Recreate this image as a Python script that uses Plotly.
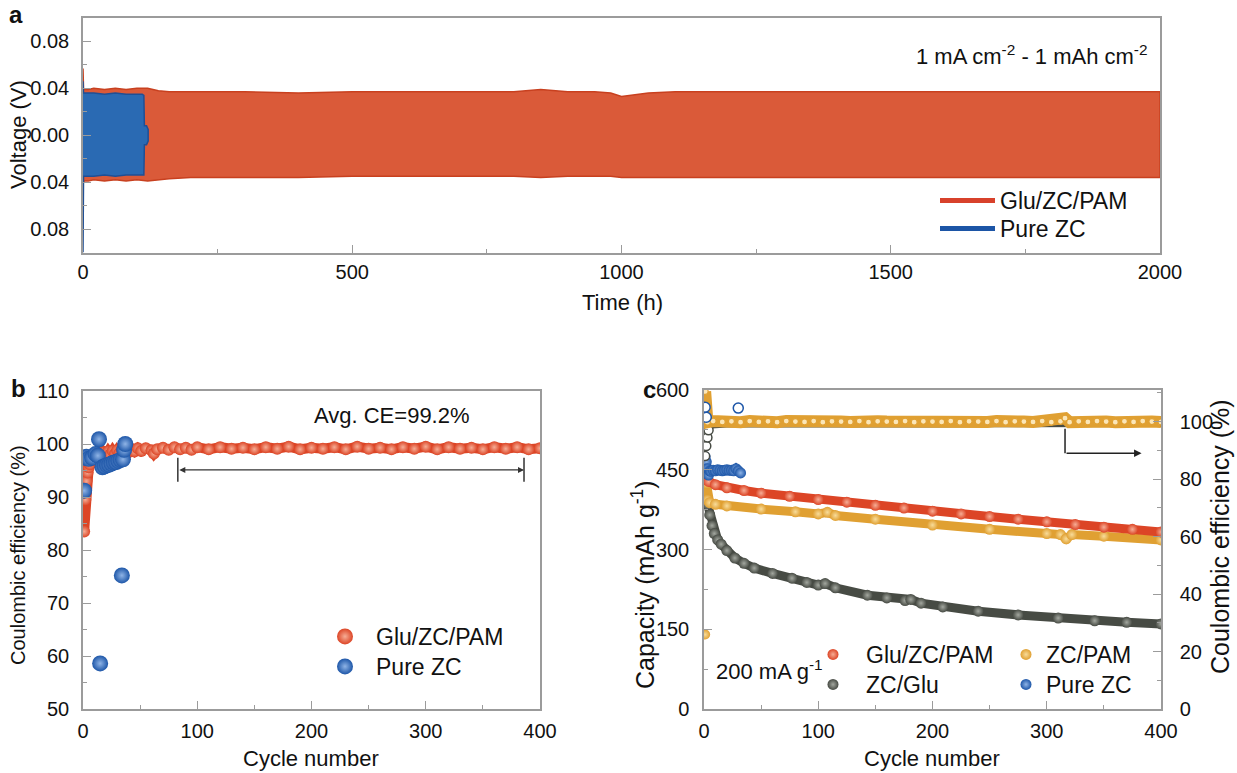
import plotly.graph_objects as go

W, H = 1237, 773

# ---------------- Panel a : voltage profile envelopes (Time in h, Voltage in V) ----------------
a_glu_time = [0, 1, 3, 10, 20, 40, 60, 80, 100, 120, 140, 160, 200, 300, 400, 500, 600, 700, 800, 850,
              900, 950, 980, 1000, 1020, 1050, 1100, 1200, 1300, 1400, 1500, 1600, 1700, 1800, 1900, 2000]
a_glu_upper = [0.057, 0.040, 0.039, 0.039, 0.040, 0.039, 0.040, 0.039, 0.040, 0.040, 0.038, 0.037, 0.037,
               0.037, 0.036, 0.037, 0.037, 0.037, 0.037, 0.039, 0.037, 0.037, 0.036, 0.033, 0.034, 0.036,
               0.037, 0.037, 0.037, 0.037, 0.037, 0.037, 0.037, 0.037, 0.037, 0.037]
a_glu_lower = [-0.040, -0.040, -0.039, -0.039, -0.038, -0.039, -0.038, -0.039, -0.038, -0.039, -0.038,
               -0.037, -0.036, -0.036, -0.036, -0.035, -0.035, -0.035, -0.035, -0.036, -0.035, -0.035,
               -0.035, -0.036, -0.036, -0.036, -0.036, -0.036, -0.036, -0.036, -0.036, -0.036, -0.036,
               -0.036, -0.036, -0.036]

a_zc_time = [0, 1, 5, 20, 40, 60, 80, 100, 110, 113, 114, 118, 121]
a_zc_upper = [0.046, 0.036, 0.036, 0.036, 0.035, 0.036, 0.035, 0.035, 0.035, 0.034, 0.008, 0.008, 0.005]
a_zc_lower = [-0.100, -0.035, -0.035, -0.035, -0.034, -0.035, -0.034, -0.034, -0.034, -0.034, -0.008,
              -0.008, -0.005]

a_ytick_vals = [-0.08, -0.04, 0.0, 0.04, 0.08]
a_ytick_text = ["0.08", "0.04", "0.00", "0.04", "0.08"]

# ---------------- Panel b : Coulombic efficiency ----------------
b_glu_cycle = [1, 2, 3, 4, 5, 6, 7, 8, 9, 10, 12, 14, 16, 18, 20, 22, 24, 26, 28, 30,
               32, 34, 36, 38, 40, 42, 45, 48, 51, 55, 60, 62, 65, 70, 75, 80, 85, 90, 95, 100,
               110, 120, 130, 140, 150, 160, 170, 180, 190, 200, 210, 220, 230, 240, 250, 260, 270, 280, 290, 300,
               310, 320, 330, 340, 350, 360, 370, 380, 390, 400]
b_glu_ce = [83.5, 89.5, 93.0, 94.6, 95.6, 96.2, 96.9, 97.3, 97.0, 97.8, 97.4, 98.2, 97.6, 98.4, 97.9, 98.6, 98.0, 98.7, 98.1, 98.8,
            98.3, 98.9, 98.4, 99.0, 98.5, 99.1, 98.6, 99.2, 98.7, 99.2, 98.8, 98.2, 99.0, 99.3, 98.9, 99.4, 99.0, 99.3, 98.9, 99.4,
            99.0, 99.4, 99.1, 99.3, 99.0, 99.4, 99.1, 99.5, 99.0, 99.3, 99.1, 99.4, 99.0, 99.5, 99.1, 99.3, 99.0, 99.4, 99.1, 99.5,
            99.0, 99.4, 99.1, 99.3, 99.0, 99.4, 99.1, 99.4, 99.0, 99.2]

b_zc_cycle = [1, 2, 3, 5, 8, 11, 13, 14, 15, 17, 19, 21, 23, 25, 27, 29, 31, 33, 34, 35, 36, 37]
b_zc_ce = [91.2, 97.4, 97.6, 97.2, 97.4, 98.1, 97.8, 100.9, 58.6, 95.6, 95.8, 96.0, 96.1, 96.3, 96.5, 96.6,
           96.8, 97.0, 75.2, 97.1, 98.9, 100.0]

b_avg_range = [83, 386]      # cycle range of the averaged CE bracket
b_avg_level = 95.1

# ---------------- Panel c : capacity (left) and CE (right) ----------------
c_glu_cycle = [2, 4, 10, 20, 35, 50, 75, 100, 125, 150, 175, 200, 225, 250, 275, 300, 325, 350, 375, 400]
c_glu_cap = [432, 428, 422, 416, 411, 406, 400, 394, 389, 383, 378, 372, 367, 362, 357, 352, 347, 342, 338, 333]

c_pam_first_cycle = [1]
c_pam_first_cap = [140]
c_pam_cycle = [2, 3, 5, 10, 20, 50, 80, 100, 108, 115, 150, 200, 250, 300, 312, 317, 322, 350, 400]
c_pam_cap = [425, 393, 388, 385, 382, 376, 371, 367, 370, 364, 357, 346, 338, 330, 328, 320, 328, 325, 318]

c_zcglu_cycle = [1, 3, 5, 7, 9, 12, 15, 20, 27, 35, 44, 60, 77, 90, 100, 106, 115, 143, 160, 176, 181, 190,
                 209, 240, 275, 310, 342, 370, 400]
c_zcglu_cap = [400, 385, 365, 345, 330, 318, 310, 298, 284, 274, 265, 255, 246, 238, 233, 236, 228, 214, 209,
               204, 206, 199, 192, 184, 177, 171, 166, 163, 160]

c_zc_cycle = [1, 2, 3, 4, 5, 6, 8, 10, 12, 14, 16, 18, 20, 22, 24, 26, 28, 30, 32]
c_zc_cap = [474, 465, 452, 440, 448, 447, 449, 448, 450, 449, 448, 449, 450, 449, 449, 448, 452, 448, 444]

c_pam_ce_cycle = [1, 3, 8, 16, 24, 32, 40, 48, 56, 64, 72, 80, 88, 96, 104, 112, 120, 128, 136, 144, 152, 160,
                  168, 176, 184, 192, 200, 208, 216, 224, 232, 240, 248, 256, 264, 272, 280, 288, 296, 304, 312,
                  316, 320, 328, 336, 344, 352, 360, 368, 376, 384, 392, 400]
c_pam_ce = [110.5, 99.8, 100.2, 99.9, 100.1, 99.8, 100.2, 99.9, 100.1, 99.8, 100.2, 100.0, 99.9, 100.2, 99.8,
            100.1, 100.0, 99.9, 100.2, 99.8, 100.1, 100.0, 99.9, 100.2, 99.8, 100.1, 100.0, 99.9, 100.2, 99.8,
            100.1, 100.0, 99.9, 100.2, 99.8, 100.1, 100.0, 99.9, 100.2, 99.8, 100.1, 101.2, 99.8, 100.1, 99.9,
            100.2, 100.0, 99.8, 100.1, 99.9, 100.2, 100.0, 99.9]

c_zcglu_ce_early_cycle = [1, 2, 3, 4]
c_zcglu_ce_early = [88.0, 91.5, 94.5, 97.0]
c_zcglu_ce_cycle = [4, 6, 10, 20, 50, 100, 150, 200, 250, 300, 350, 400]
c_zcglu_ce = [97.0, 98.3, 98.6, 98.8, 98.8, 98.7, 98.8, 98.8, 98.9, 98.9, 99.0, 99.0]

c_zc_ce_cycle = [1, 2, 30]
c_zc_ce = [105.0, 101.5, 104.7]

c_arrow_cycle = [316, 383]
c_arrow_ce = [97.5, 89.0]

# ---------------- colours ----------------
RED_A, RED_A_EDGE = "#da5a39", "#c8401f"
BLUE_A, BLUE_A_EDGE = "#2a6ab3", "#1f4f95"
RED, RED_HI = "#dc4526", "#f6ad95"
BLUE, BLUE_HI = "#1d56a8", "#8fb4e6"
ORANGE, ORANGE_HI = "#e0a032", "#f8dc9a"
DARK, DARK_HI = "#474b44", "#a3a79f"
AXC = "#9b9b9b"
FONT = "Arial, Liberation Sans, Helvetica, sans-serif"

fig = go.Figure()

# ---- panel a ----
fig.add_trace(go.Scatter(x=a_glu_time + a_glu_time[::-1], y=a_glu_upper + a_glu_lower[::-1],
                         fill="toself", fillcolor=RED_A, mode="lines",
                         line=dict(color=RED_A_EDGE, width=1.5), showlegend=False,
                         hoverinfo="skip", xaxis="x", yaxis="y"))
fig.add_trace(go.Scatter(x=a_zc_time + a_zc_time[::-1], y=a_zc_upper + a_zc_lower[::-1],
                         fill="toself", fillcolor=BLUE_A, mode="lines",
                         line=dict(color=BLUE_A_EDGE, width=1.5), showlegend=False,
                         hoverinfo="skip", xaxis="x", yaxis="y"))
fig.add_trace(go.Scatter(x=[None], y=[None], mode="lines", name="Glu/ZC/PAM",
                         line=dict(color="#d8412b", width=5), legend="legend", xaxis="x", yaxis="y"))
fig.add_trace(go.Scatter(x=[None], y=[None], mode="lines", name="Pure ZC",
                         line=dict(color="#1c55a6", width=5), legend="legend5", xaxis="x", yaxis="y"))

# ---- panel b ----
fig.add_trace(go.Scatter(x=b_glu_cycle, y=b_glu_ce, mode="lines", line=dict(color=RED, width=10),
                         showlegend=False, hoverinfo="skip", xaxis="x2", yaxis="y2"))
fig.add_trace(go.Scatter(x=b_glu_cycle, y=b_glu_ce, mode="markers", showlegend=False,
                         marker=dict(size=12, color=RED, gradient=dict(type="radial", color=RED_HI)),
                         xaxis="x2", yaxis="y2"))
fig.add_trace(go.Scatter(x=[None], y=[None], mode="markers", name="Glu/ZC/PAM",
                         marker=dict(size=16, color=RED, gradient=dict(type="radial", color=RED_HI)),
                         legend="legend2", xaxis="x2", yaxis="y2"))
fig.add_trace(go.Scatter(x=b_zc_cycle, y=b_zc_ce, mode="markers", name="Pure ZC",
                         marker=dict(size=16, color=BLUE, gradient=dict(type="radial", color=BLUE_HI)),
                         legend="legend6", xaxis="x2", yaxis="y2"))

# ---- panel c : CE (right axis) ----
fig.add_trace(go.Scatter(x=c_zcglu_ce_cycle, y=c_zcglu_ce, mode="lines",
                         line=dict(color=DARK, width=5),
                         showlegend=False, hoverinfo="skip", xaxis="x3", yaxis="y4"))
fig.add_trace(go.Scatter(x=c_zcglu_ce_early_cycle, y=c_zcglu_ce_early, mode="markers",
                         marker=dict(size=9, color="white", line=dict(color=DARK, width=1.5)),
                         showlegend=False, hoverinfo="skip", xaxis="x3", yaxis="y4"))
fig.add_trace(go.Scatter(x=c_pam_ce_cycle, y=c_pam_ce, mode="lines+markers",
                         line=dict(color=ORANGE, width=12),
                         marker=dict(size=6, color="#fbe6b8", line=dict(color=ORANGE, width=1.2)),
                         showlegend=False, hoverinfo="skip", xaxis="x3", yaxis="y4"))
fig.add_trace(go.Scatter(x=c_zc_ce_cycle, y=c_zc_ce, mode="markers",
                         marker=dict(size=10, color="white", line=dict(color=BLUE, width=1.5)),
                         showlegend=False, hoverinfo="skip", xaxis="x3", yaxis="y4"))

# ---- panel c : capacity (left axis) ----
def cap_band(xs, ys, col, hi, name, leg):
    fig.add_trace(go.Scatter(x=xs, y=ys, mode="lines", line=dict(color=col, width=9),
                             showlegend=False, hoverinfo="skip", xaxis="x3", yaxis="y3"))
    fig.add_trace(go.Scatter(x=xs, y=ys, mode="markers", name=name,
                             marker=dict(size=11, color=col, gradient=dict(type="radial", color=hi)),
                             legend=leg, xaxis="x3", yaxis="y3"))

cap_band(c_zcglu_cycle, c_zcglu_cap, DARK, DARK_HI, "ZC/Glu", "legend7")
cap_band(c_pam_cycle, c_pam_cap, ORANGE, ORANGE_HI, "ZC/PAM", "legend4")
cap_band(c_glu_cycle, c_glu_cap, RED, RED_HI, "Glu/ZC/PAM", "legend3")
cap_band(c_zc_cycle, c_zc_cap, BLUE, BLUE_HI, "Pure ZC", "legend8")
fig.add_trace(go.Scatter(x=c_pam_first_cycle, y=c_pam_first_cap, mode="markers",
                         marker=dict(size=10, color=ORANGE, gradient=dict(type="radial", color=ORANGE_HI)),
                         showlegend=False, hoverinfo="skip", xaxis="x3", yaxis="y3"))

# ---------------- axes ----------------
def axis(domain, rng, dtick, minor_dtick, standoff=8, **kw):
    d = dict(domain=domain, range=rng, showline=True, linecolor=AXC, linewidth=1.5, mirror=True,
             ticks="inside", ticklen=8, tickwidth=1.2, tickcolor=AXC, showgrid=False, zeroline=False,
             automargin=False,
             tickfont=dict(size=20, color="#111111", family=FONT), ticklabelstandoff=standoff,
             minor=dict(ticks="inside", ticklen=4, tickwidth=1.0, tickcolor=AXC, dtick=minor_dtick,
                        showgrid=False))
    if dtick is not None:
        d["dtick"] = dtick
        d["tick0"] = 0
    d.update(kw)
    return d

xa_dom = [83 / W, 1160 / W]
ya_dom = [1 - 252.5 / H, 1 - 18 / H]
xb_dom = [83 / W, 540 / W]
yb_dom = [1 - 709 / H, 1 - 391 / H]
xc_dom = [704 / W, 1161 / W]
yc_dom = [1 - 709 / H, 1 - 390 / H]

def leg(x, y, **kw):
    d = dict(x=x / W, y=1 - y / H, xanchor="left", yanchor="top", bgcolor="rgba(0,0,0,0)",
             font=dict(size=23, family=FONT, color="#111111"), tracegroupgap=0)
    d.update(kw)
    return d

fig.update_layout(
    width=W, height=H,
    margin=dict(l=0, r=0, t=0, b=0),
    paper_bgcolor="white", plot_bgcolor="white",
    font=dict(family=FONT, size=20, color="#111111"),
    xaxis=axis(xa_dom, [0, 2000], 500, 250, standoff=1, anchor="y"),
    yaxis=axis(ya_dom, [-0.1, 0.1], None, 0.02, standoff=8, anchor="x", tickmode="array",
               tickvals=a_ytick_vals, ticktext=a_ytick_text),
    xaxis2=axis(xb_dom, [0, 400], 100, 50, standoff=3, anchor="y2"),
    yaxis2=axis(yb_dom, [50, 110], 10, 5, standoff=8, anchor="x2"),
    xaxis3=axis(xc_dom, [0, 400], 100, 50, standoff=3, anchor="y3"),
    yaxis3=axis(yc_dom, [0, 600], 150, 75, standoff=9, anchor="x3", mirror=False),
    yaxis4=axis(yc_dom, [0, 111], 20, 10, standoff=13, anchor="x3", overlaying="y3", side="right",
                mirror=False),
    legend=leg(935, 179, itemwidth=55),
    legend5=leg(935, 207, itemwidth=55),
    legend2=leg(314, 615, itemwidth=52),
    legend6=leg(314, 645, itemwidth=52),
    legend3=leg(800, 633, itemwidth=56),
    legend7=leg(800, 663, itemwidth=56),
    legend4=leg(1006, 633),
    legend8=leg(1006, 663),
)

# ---------------- annotations ----------------
ann = []
def label(text, x, y, size=22, angle=0, xanchor="center", yanchor="middle"):
    ann.append(dict(text=text, x=x / W, y=1 - y / H, xref="paper", yref="paper", showarrow=False,
                    textangle=angle, xanchor=xanchor, yanchor=yanchor,
                    font=dict(size=size, family=FONT, color="#111111")))

label("<b>a</b>", 16, 14, size=24)
label("<b>b</b>", 18, 388, size=24)
label("<b>c</b>", 649, 389, size=24)
label("Voltage (V)", 18, 135, size=22, angle=-90)
label("Time (h)", 622, 302, size=22)
label("1 mA cm<sup>-2</sup> - 1 mAh cm<sup>-2</sup>", 1150, 55, size=22, xanchor="right")
label("Coulombic efficiency (%)", 18, 555, size=20, angle=-90)
label("Cycle number", 311, 758, size=22)
label("Avg. CE=99.2%", 392, 415, size=22)
label("Capacity (mAh g<sup>-1</sup>)", 643, 585, size=25, angle=-90)
label("Coulombic efficiency (%)", 1220, 537, size=25, angle=-90)
label("Cycle number", 932, 758, size=22)
label("200 mA g<sup>-1</sup>", 714, 670, size=22, xanchor="left")

# bracket arrow in panel b
ann.append(dict(x=b_avg_range[1], y=b_avg_level, ax=b_avg_range[0], ay=b_avg_level, xref="x2", yref="y2",
                axref="x2", ayref="y2", text="", showarrow=True, arrowhead=2, arrowside="end+start",
                arrowsize=1, arrowwidth=1.2, arrowcolor="#333333"))
# arrow in panel c pointing to right axis
ann.append(dict(x=c_arrow_cycle[1], y=c_arrow_ce[1], ax=c_arrow_cycle[0], ay=c_arrow_ce[1], xref="x3",
                yref="y4", axref="x3", ayref="y4", text="", showarrow=True, arrowhead=2, arrowsize=1,
                arrowwidth=1.5, arrowcolor="#222222"))
fig.update_layout(annotations=ann)

shapes = []
for cx in b_avg_range:
    shapes.append(dict(type="line", xref="x2", yref="y2", x0=cx, x1=cx, y0=b_avg_level - 2.2,
                       y1=b_avg_level + 2.3, line=dict(color="#333333", width=1.5)))
shapes.append(dict(type="line", xref="x3", yref="y4", x0=c_arrow_cycle[0], x1=c_arrow_cycle[0],
                   y0=c_arrow_ce[0], y1=c_arrow_ce[1], line=dict(color="#222222", width=1.5)))
fig.update_layout(shapes=shapes)

# remove the browser's default 8px page margin so the figure sits at the window origin
fig.write_html("out.html", config={"displayModeBar": False},
               post_script="document.body.style.margin='0px';")
